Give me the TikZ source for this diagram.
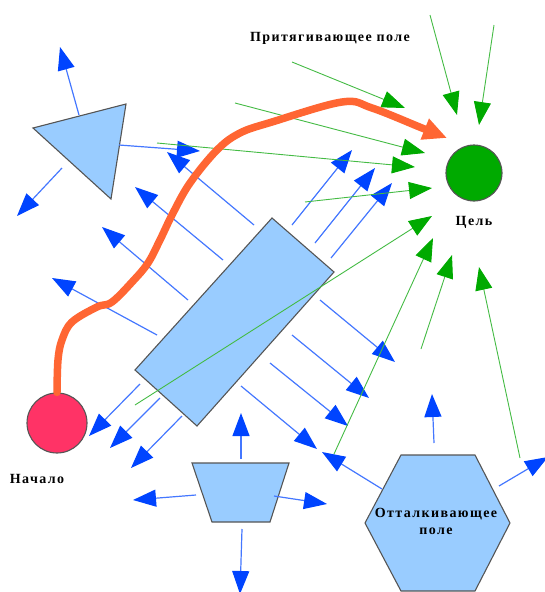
\documentclass[tikz,border=0pt]{standalone}
\usepackage{fontspec}
\setmainfont{Liberation Serif}
\newfontfamily\fieldfont[LetterSpace=10]{Liberation Serif}
\usetikzlibrary{arrows.meta}

\definecolor{shapefill}{HTML}{99CCFF}
\definecolor{shapeline}{HTML}{555555}
\definecolor{repelline}{HTML}{4477FF}
\definecolor{repelhead}{HTML}{0044FF}
\definecolor{attractline}{HTML}{44BB44}
\definecolor{attracthead}{HTML}{00AA00}
\definecolor{routecol}{HTML}{FF6633}
\definecolor{startcol}{HTML}{FF3366}

\begin{document}
\begin{tikzpicture}[x=1pt,y=-1pt,
        obstacle/.style={fill=shapefill, draw=shapeline, line width=1.1pt, line join=miter},
        repel/.style={draw=repelline, line width=1.2pt,
          -{Triangle[length=23pt,width=17pt,fill=repelhead,color=repelhead]}},
        attract/.style={draw=attractline, line width=0.9pt,
          -{Triangle[length=23pt,width=17pt,fill=attracthead,color=attracthead]}},
        route/.style={draw=routecol, line width=7.5pt, line cap=round,
          -{Triangle[length=24pt,width=21pt,fill=routecol,color=routecol]}},
        fieldlabel/.style={font=\fieldfont\bfseries\fontsize{14}{17}\selectfont, align=center}]
      \useasboundingbox (0,0) rectangle (544,592);
      \draw[obstacle] (33,128) -- (126,104) -- (111,199) -- cycle;
      \draw[obstacle] (272,218) -- (334,272) -- (197,426) -- (135,370) -- cycle;
      \draw[obstacle] (192,463) -- (289,463) -- (270,522) -- (212,522) -- cycle;
      \draw[obstacle] (401,455) -- (475,455) -- (510,523) -- (475,591)
        -- (401,591) -- (365,523) -- cycle;
      \node[circle, fill=attracthead, draw=shapeline, line width=1.1pt,
        minimum size=56pt, name=goal] at (474,173) {};
      \node[circle, fill=startcol, draw=shapeline, line width=1.1pt,
        minimum size=60pt, name=start] at (57,423) {};
      \node[fieldlabel, name=goaltext] at (474,222) {Цель};
      \node[fieldlabel, name=starttext] at (37,479) {Начало};
      \node[fieldlabel, name=attracttext] at (330,38) {Притягивающее поле};
      \node[fieldlabel, name=repeltext] at (436,521) {Отталкивающее\\поле};
      \draw[repel] (79,115) -- (60,47);
      \draw[repel] (62,168) -- (17,216);
      \draw[repel] (119,145) -- (200,151);
      \draw[repel] (254,225) -- (167,152);
      \draw[repel] (223,260) -- (135,187);
      \draw[repel] (188,300) -- (102,227);
      \draw[repel] (157,335) -- (52,278);
      \draw[repel] (292,225) -- (352,150);
      \draw[repel] (315,243) -- (375,168);
      \draw[repel] (331,258) -- (392,183);
      \draw[repel] (140,384) -- (89,436);
      \draw[repel] (160,398) -- (110,448);
      \draw[repel] (182,416) -- (131,468);
      \draw[repel] (320,300) -- (395,362);
      \draw[repel] (292,335) -- (369,398);
      \draw[repel] (270,363) -- (348,426);
      \draw[repel] (241,386) -- (317,449);
      \draw[repel] (382,489) -- (322,452);
      \draw[repel] (434,443) -- (432,394);
      \draw[repel] (499,486) -- (548,457);
      \draw[repel] (241,459) -- (241,413);
      \draw[repel] (196,495) -- (133,500);
      \draw[repel] (242,529) -- (240,594);
      \draw[repel] (274,496) -- (327,504);
      \draw[attract] (157,143) -- (415,167);
      \draw[attract] (235,103) -- (425,153);
      \draw[attract] (292,62) -- (405,108);
      \draw[attract] (430,15) -- (457,115);
      \draw[attract] (494,25) -- (479,125);
      \draw[attract] (305,202) -- (432,188);
      \draw[attract] (135,405) -- (432,216);
      \draw[attract] (334,454) -- (433,238);
      \draw[attract] (421,349) -- (452,255);
      \draw[attract] (520,458) -- (479,267);
      \draw[route] plot[smooth, tension=0.6] coordinates {(start.north) (58,360)
        (62,340) (72,322) (97,307) (112,302) (133,281) (148,263) (160,240)
        (173,213) (190,183) (217,150) (240,133) (272,122) (342,102) (372,108)
        (422,128) (447,138)};
    \end{tikzpicture}
\end{document}
